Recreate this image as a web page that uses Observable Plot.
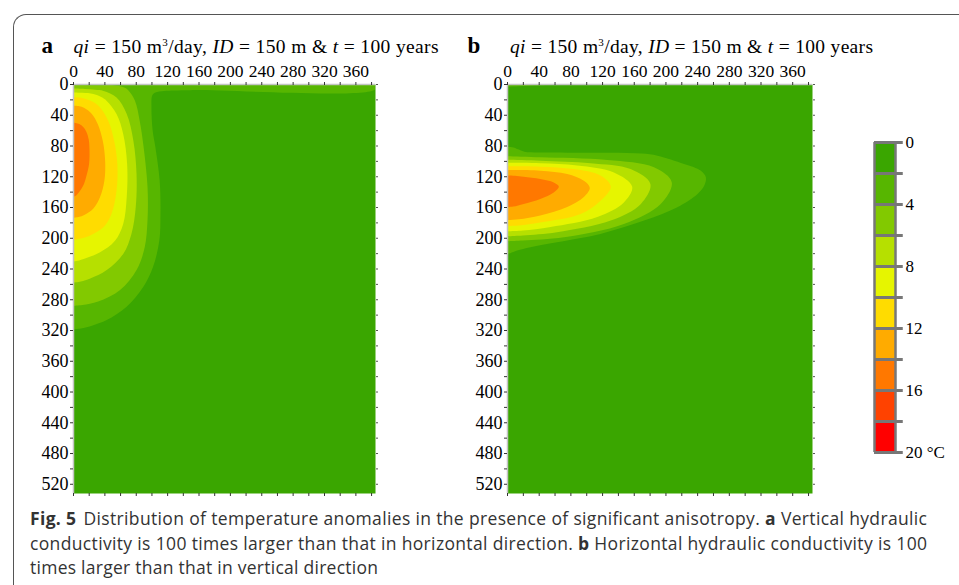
<!DOCTYPE html>
<html>
<head>
<meta charset="utf-8">
<script src="https://cdn.jsdelivr.net/npm/d3@7"></script>
<script src="https://cdn.jsdelivr.net/npm/@observablehq/plot@0.6"></script>
<style>
  html, body { margin: 0; padding: 0; background: #fff; }
  body { position: relative; width: 959px; height: 585px; overflow: hidden; }
  #frame { position: absolute; left: 13px; top: 14px; width: 980px; height: 620px;
           border-left: 1.4px solid #555; border-top: 1.4px solid #555; border-top-left-radius: 13px; box-sizing: border-box; }
  .abs { position: absolute; top: 0; }
  #overlay { position: absolute; left: 0; top: 0; }
</style>
</head>
<body>
<div id="frame"></div>
<div id="pa" class="abs" style="left:0px"></div>
<div id="pb" class="abs" style="left:434px"></div>
<div id="cb" class="abs" style="left:840px"></div>
<svg id="overlay" width="959" height="585" xmlns="http://www.w3.org/2000/svg">
  <g font-family="Liberation Serif, serif" fill="#000">
    <text x="41.5" y="53" font-size="23" font-weight="bold">a</text>
    <text x="73.5" y="53" font-size="19.5" textLength="365" lengthAdjust="spacing"><tspan font-style="italic">qi</tspan> = 150 m<tspan font-size="11" dy="-7">3</tspan><tspan dy="7">/day, </tspan><tspan font-style="italic">ID</tspan> = 150 m &amp; <tspan font-style="italic">t</tspan> = 100 years</text>
    <text x="467.5" y="53" font-size="23" font-weight="bold">b</text>
    <text x="510" y="53" font-size="19.5" textLength="363" lengthAdjust="spacing"><tspan font-style="italic">qi</tspan> = 150 m<tspan font-size="11" dy="-7">3</tspan><tspan dy="7">/day, </tspan><tspan font-style="italic">ID</tspan> = 150 m &amp; <tspan font-style="italic">t</tspan> = 100 years</text>
  </g>
  <g font-family="Open Sans, sans-serif" font-size="17.5" fill="#333">
    <text x="30" y="525" textLength="897" lengthAdjust="spacing"><tspan font-weight="bold">Fig. 5</tspan><tspan dx="7">Distribution of temperature anomalies in the presence of significant anisotropy. </tspan><tspan font-weight="bold">a</tspan> Vertical hydraulic</text>
    <text x="30" y="550" textLength="897" lengthAdjust="spacing">conductivity is 100 times larger than that in horizontal direction. <tspan font-weight="bold">b</tspan> Horizontal hydraulic conductivity is 100</text>
    <text x="30" y="574" textLength="348" lengthAdjust="spacing">times larger than that in vertical direction</text>
  </g>
</svg>
<script>
// ---- temperature anomaly levels (°C) and colours ----
const levels = [0, 2, 4, 6, 8, 10, 12, 14, 16, 18, 20];
const colors = ["#3aa600", "#57b600", "#82c900", "#b6e000", "#e6f500", "#ffdc00", "#ffab00", "#ff7800", "#ff4200", "#ff0000"];

// ---- axis ticks ----
const xTicks = [0, 20, 40, 60, 80, 100, 120, 140, 160, 180, 200, 220, 240, 260, 280, 300, 320, 340, 360, 380];
const xTickLabels = [0, 40, 80, 120, 160, 200, 240, 280, 320, 360];
const yTicks = [0, 20, 40, 60, 80, 100, 120, 140, 160, 180, 200, 220, 240, 260, 280, 300, 320, 340, 360, 380, 400, 420, 440, 460, 480, 500, 520];
const yTickLabels = [0, 40, 80, 120, 160, 200, 240, 280, 320, 360, 400, 440, 480, 520];
const cbTicks = [0, 4, 8, 12, 16, 20];
const cbLabels = ["0", "4", "8", "12", "16", "20 °C"];

// ---- panel a: extent of each anomaly level, [depth y (m), distance x (m)] ----
const aT2 = [[0,385],[7,385],[8,150],[9,116],[11,105],[15,101],[30,100],[60,101.5],[82,105],[126,110.5],[169,111.5],[204,110],[238,102],[264,89.5],[290,68],[307,43],[314,25],[318,10],[319,0]];
const aT4 = [[1.5,0],[1.8,30],[2.3,55],[5,66],[8.8,71],[21.8,79],[47.8,85],[82,90],[134,95],[177,95],[212,91.5],[242,81],[268,60],[283,32],[287.5,12],[288.5,0]];
const aT6 = [[6,0],[6.5,15],[7.5,28],[9,39],[17.5,55.5],[39,68.5],[74,77],[117,81],[160,80],[195,74.5],[221,64],[242,43],[253,22],[257,10],[258.5,0]];
const aT8 = [[11,0],[11.5,12],[13,26],[17,36],[22,43],[39,55.5],[65,64],[104,69],[147,68.5],[182,64],[204,53.5],[219,34.5],[227.5,13.5],[230,6],[231,0]];
const aT10 = [[17,0],[18,10],[20,18],[24,27],[30.5,34.5],[48,45],[74,52.5],[104,56.5],[139,55.5],[169,49],[186,39],[197,22],[201,10],[203,0]];
const aT12 = [[28,0],[29,8],[31,14],[39,24],[52,31.5],[74,38],[100,41],[126,40],[147,34.5],[162,26],[170,15],[173,7],[174,0]];
const aT14 = [[50,0],[52,8],[56,13],[62,17],[72,20],[85,21],[104,20.5],[120,17],[130,14],[139,9],[145,4],[147,0]];

// ---- panel b ----
const bT2top = [[0,60],[1,55],[2,35],[3,15],[3.8,0]];
const bT2 = [[82,0],[82.5,8],[85,14],[88,22],[89,60],[89.5,130],[90.5,170],[93.2,190],[104,223.5],[112.7,244.7],[121.4,251],[132,249],[143,240.5],[160.3,215],[177.7,173],[195,118],[205.8,63],[212.3,29.5],[216.6,12.7],[220,4],[221,0]];
const bT4 = [[94,0],[95.4,42],[98.9,126.5],[108.4,185.5],[128,208],[156,194],[182,147.5],[199.3,72],[203.5,20],[204.5,0]];
const bT6 = [[98.5,0],[99.7,42],[103,105.5],[110.6,156],[130,181],[156,169],[177.7,131],[192.8,63],[197,20],[198,0]];
const bT8 = [[102.5,0],[103,42],[106,88.5],[115,135],[133.5,158],[154,147.5],[173,114],[186,55],[190.5,20],[191.5,0]];
const bT10 = [[107,0],[107.5,42],[110.6,84],[119,118],[133.5,131],[151.7,118],[169,93],[180,42],[184,15],[184.6,0]];
const bT12 = [[112,0],[112.7,42],[117,76],[125.7,97],[135,104.5],[147,97],[160,76],[171,42],[176,15],[177,0]];
const bT14 = [[119,0],[119.3,10],[120.5,21],[123.5,42],[128,59],[133.5,65.5],[141,59],[149.5,42],[156,21],[159.5,8],[160.3,0]];

const colorScale = {type: "threshold", domain: levels.slice(1, -1), range: colors};
const serif = "Liberation Serif, serif";
const fontStyle = {background: "transparent", fontFamily: serif, fontSize: "17px", color: "#000", overflow: "visible"};
const axisBase = {fontFamily: serif, fill: "#000", stroke: "#333", label: null};

function rowsOf(bands) {
  const rows = [];
  bands.forEach(([T, seg, pts]) => pts.forEach(([y, x]) => rows.push({T, key: T + "_" + seg, y, x})));
  return rows;
}

function panel(bands, marginRight) {
  const rows = rowsOf(bands);
  return Plot.plot({
    width: 400, height: 520,
    marginLeft: 73, marginRight, marginTop: 84, marginBottom: 27,
    style: fontStyle,
    x: {domain: [0, 385]},
    y: {domain: [0, 532], reverse: true},
    color: colorScale,
    marks: [
      Plot.frame({fill: colors[0], stroke: null}),
      Plot.areaX(rows, {x1: 0, x2: "x", y: "y", z: "key", fill: "T", curve: "catmull-rom", clip: true}),
      Plot.ruleY([0], {stroke: "#c4c4c4", strokeWidth: 1.5}),
      Plot.ruleX([0], {stroke: "#c4c4c4", strokeWidth: 1.5}),
      Plot.axisX({...axisBase, fontSize: 17.5, anchor: "top", ticks: xTicks, tickFormat: d => xTickLabels.includes(d) ? String(d) : "", tickSize: 3, tickPadding: 5}),
      Plot.axisX({...axisBase, anchor: "bottom", ticks: xTicks, tickFormat: () => "", tickSize: 3}),
      Plot.axisY({...axisBase, fontSize: 18, anchor: "left", ticks: yTicks, tickFormat: d => yTickLabels.includes(d) ? String(d) : "", tickSize: 3, tickPadding: 2}),
      Plot.axisY({...axisBase, anchor: "right", ticks: yTicks, tickFormat: () => "", tickSize: 2, stroke: "#555"})
    ]
  });
}

document.getElementById("pa").append(panel([
  [2, 0, aT2], [4, 0, aT4], [6, 0, aT6], [8, 0, aT8], [10, 0, aT10], [12, 0, aT12], [14, 0, aT14]
], 25));

document.getElementById("pb").append(panel([
  [2, 1, bT2top], [2, 0, bT2], [4, 0, bT4], [6, 0, bT6], [8, 0, bT8], [10, 0, bT10], [12, 0, bT12], [14, 0, bT14]
], 22));

// ---- colour bar ----
const bins = levels.slice(0, -1).map((lo, i) => ({lo, hi: levels[i + 1]}));
document.getElementById("cb").append(Plot.plot({
  width: 119, height: 480,
  style: fontStyle,
  x: {domain: [0, 1], range: [34, 55], axis: null},
  y: {domain: [0, 20], range: [142, 452], axis: null},
  color: colorScale,
  marks: [
    Plot.rect(bins, {x1: 0, x2: 1, y1: "lo", y2: "hi", fill: "lo"}),
    Plot.ruleY(levels, {y: d => d, x1: 0, x2: 1.37, stroke: "#777", strokeWidth: 3}),
    Plot.ruleX([0, 1], {x: d => d, y1: 0, y2: 20, stroke: "#777", strokeWidth: 2.5}),
    Plot.text(cbTicks, {x: 1, y: d => d, text: (d, i) => cbLabels[i], textAnchor: "start", dx: 10, fontSize: 17, fontFamily: serif})
  ]
}));
</script>
</body>
</html>
